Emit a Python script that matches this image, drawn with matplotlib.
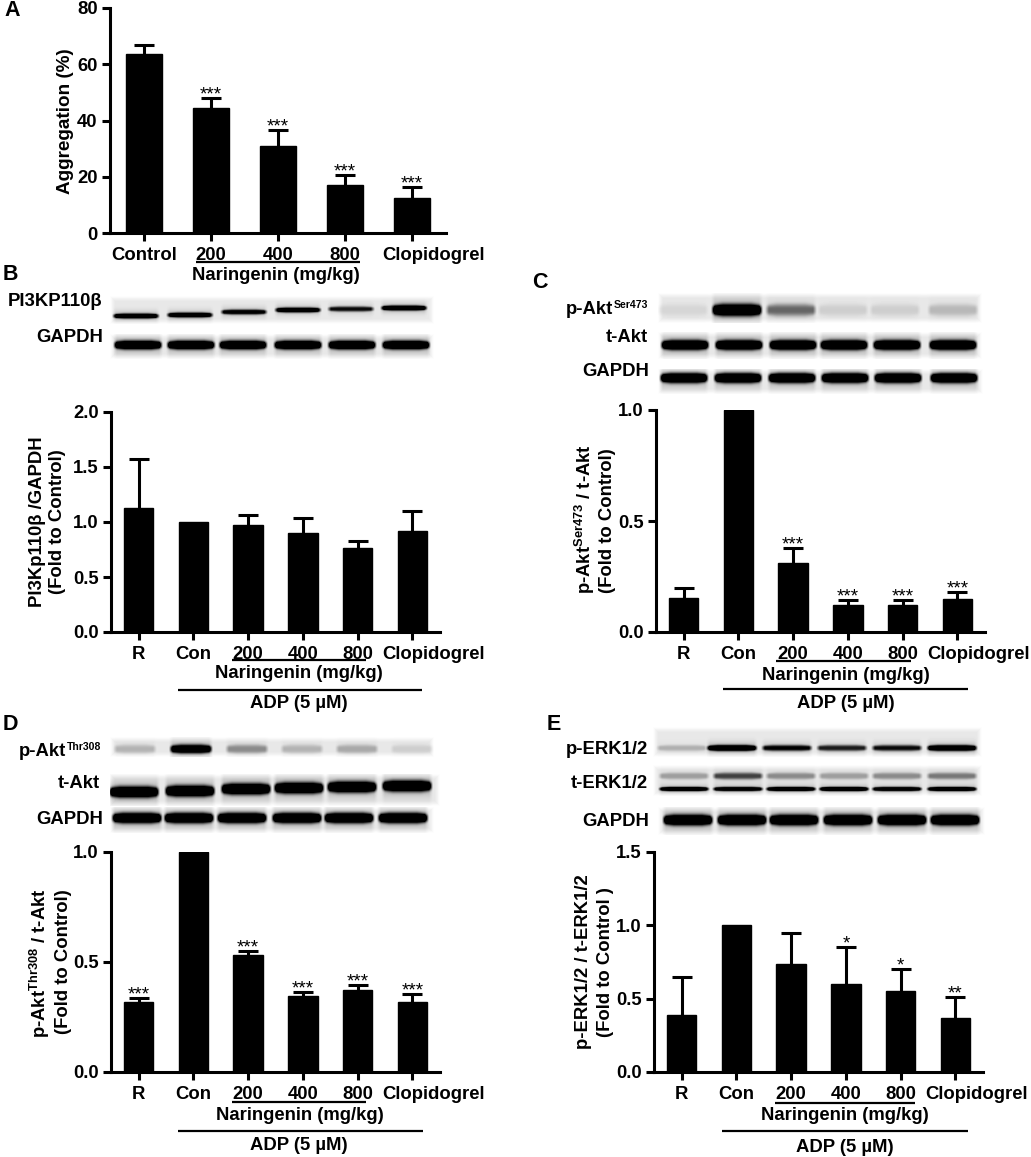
import numpy as np
import matplotlib
matplotlib.use('Agg')
import matplotlib.pyplot as plt
from matplotlib.transforms import ScaledTranslation

plt.rcParams['font.family'] = ['Liberation Sans', 'DejaVu Sans']
plt.rcParams['font.weight'] = 'bold'
plt.rcParams['mathtext.fontset'] = 'custom'
plt.rcParams['mathtext.bf'] = 'Liberation Sans:bold'
plt.rcParams['mathtext.rm'] = 'Liberation Sans:bold'
plt.rcParams['mathtext.default'] = 'bf'

W, H = 1031, 1157

# bar values
labels_a = ['Control', '200', '400', '800', 'Clopidogrel']
labels_6 = ['R', 'Con', '200', '400', '800', 'Clopidogrel']

vals_a = [63.5, 44.5, 31.0, 17.0, 12.5]
err_a = [3.5, 3.5, 5.5, 3.5, 4.0]
stars_a = ['', '***', '***', '***', '***']

vals_b = [1.13, 1.0, 0.97, 0.90, 0.76, 0.92]
err_b = [0.44, np.nan, 0.09, 0.14, 0.07, 0.18]
stars_b = ['', '', '', '', '', '']

vals_c = [0.155, 1.0, 0.31, 0.12, 0.12, 0.15]
err_c = [0.045, np.nan, 0.07, 0.025, 0.025, 0.028]
stars_c = ['', '', '***', '***', '***', '***']

vals_d = [0.32, 1.0, 0.53, 0.345, 0.375, 0.32]
err_d = [0.015, np.nan, 0.02, 0.02, 0.02, 0.035]
stars_d = ['***', '', '***', '***', '***', '***']

vals_e = [0.39, 1.0, 0.735, 0.60, 0.55, 0.37]
err_e = [0.26, np.nan, 0.215, 0.25, 0.15, 0.14]
stars_e = ['', '', '', '*', '*', '**']

# blot band darkness, one value per lane
blot_pi3k = [0.85, 0.8, 0.7, 0.8, 0.6, 0.9]
blot_gapdh = [1.0, 1.0, 1.0, 1.0, 1.0, 1.0]
blot_pakt_ser = [0.05, 1.0, 0.35, 0.07, 0.07, 0.13]
blot_takt = [1.0, 1.0, 1.0, 1.0, 1.0, 1.0]
blot_pakt_thr = [0.14, 0.9, 0.25, 0.14, 0.17, 0.07]
blot_perk = [0.15, 0.95, 0.65, 0.55, 0.6, 0.9]
blot_terk_low = [0.85, 0.8, 0.85, 0.9, 0.8, 0.85]
blot_terk_up = [0.2, 0.45, 0.25, 0.2, 0.25, 0.3]

fig = plt.figure(figsize=(W / 100, H / 100), dpi=100, facecolor='white')
over = fig.add_axes([0, 0, 1, 1], zorder=0)
over.axis('off')


def bar_panel(box, vals, errs, stars, labels, ymax, yticks, fmt):
    l, t, r, b = box
    ax = fig.add_axes([l / W, 1 - b / H, (r - l) / W, (b - t) / H], zorder=2)
    ax.patch.set_alpha(0)
    x = np.arange(len(vals))
    ax.bar(x, vals, width=0.54, color='black', edgecolor='black', linewidth=1)
    eb = ax.errorbar(x, vals, yerr=[np.zeros(len(vals)), errs], fmt='none', ecolor='black',
                     elinewidth=2.2, capsize=7, capthick=2.2, clip_on=False)
    eb[1][0].set_visible(False)  # no lower cap
    for i, s in enumerate(stars):
        if s:
            ax.annotate(s, (i, vals[i] + errs[i]), xytext=(0, -1), textcoords='offset points',
                        ha='center', va='baseline', fontsize=13.5, fontweight='normal',
                        annotation_clip=False)
    ax.set_xlim(-0.505, len(vals) - 0.495)
    ax.set_ylim(0, ymax)
    ax.set_yticks(yticks)
    ax.set_yticklabels([fmt % v for v in yticks])
    ax.set_xticks(x)
    ax.set_xticklabels(labels)
    ax.tick_params(axis='both', width=2.2, length=6, labelsize=13.3, pad=3)
    ax.tick_params(axis='x', pad=4)
    for s in ['top', 'right']:
        ax.spines[s].set_visible(False)
    for s in ['left', 'bottom']:
        ax.spines[s].set_linewidth(2.2)
    # Clopidogrel label sits right of its tick
    lab = ax.get_xticklabels()[-1]
    lab.set_transform(lab.get_transform() + ScaledTranslation(21 / 100, 0, fig.dpi_scale_trans))
    return ax


def blot(box, lanes, half, bands):
    # bands: list of (darkness per lane, y centres, half thickness)
    x0, y0, x1, y1 = box
    xs = np.arange(x0, x1) + 0.5
    ys = np.arange(y0, y1) + 0.5
    X, Y = np.meshgrid(xs, ys)
    edge = np.minimum.reduce([X - x0, x1 - X, Y - y0, y1 - Y])
    fade = np.clip(edge / 5, 0, 1)
    dark = 0.09 * fade
    for levels, yc, th in bands:
        for i, c in enumerate(lanes):
            yy = yc[i] if np.ndim(yc) else yc
            lx = np.clip((half - np.abs(X - c)) / 4, 0, 1)
            taper = 0.55 + 0.45 * np.clip((half - np.abs(X - c)) / 12, 0, 1) ** 0.5
            core = np.exp(-(np.abs(Y - yy) / (th * taper)) ** 2.8)
            halo = np.exp(-((Y - yy) / (th * 2.0)) ** 2) * 0.22
            dark = dark + levels[i] * lx * (core * 1.25 + halo)
    img = 1 - np.clip(dark, 0, 1)
    over.imshow(img, extent=(x0, x1, y1, y0), cmap='gray', vmin=0, vmax=1, aspect='auto',
                interpolation='bicubic')


def t(x, y, s, **kw):
    kw.setdefault('fontsize', 13.3)
    kw.setdefault('ha', 'center')
    kw.setdefault('va', 'center')
    over.text(x, y, s, **kw)


def hline(x0, x1, y):
    over.plot([x0, x1], [y, y], color='black', lw=1.6, solid_capstyle='butt')


# A
bar_panel((110, 8, 446, 233), vals_a, err_a, stars_a, labels_a, 80, [0, 20, 40, 60, 80], '%d')
# B
bar_panel((111, 412, 440, 632), vals_b, err_b, stars_b, labels_6, 2.0, [0, 0.5, 1.0, 1.5, 2.0], '%.1f')
# C
bar_panel((656, 410, 985, 632), vals_c, err_c, stars_c, labels_6, 1.0, [0, 0.5, 1.0], '%.1f')
# D
bar_panel((111, 852, 440, 1072), vals_d, err_d, stars_d, labels_6, 1.0, [0, 0.5, 1.0], '%.1f')
# E
bar_panel((654, 852, 983, 1072), vals_e, err_e, stars_e, labels_6, 1.5, [0, 0.5, 1.0, 1.5], '%.1f')

# blots
blot((110, 296, 434, 324), [136, 190, 244, 298, 351, 404], 24, [(blot_pi3k, [316, 315, 312, 310, 309, 308], 2.6)])
blot((110, 334, 434, 359), [138, 191, 243, 298, 352, 406], 25, [(blot_gapdh, 345, 4.4)])
blot((658, 293, 982, 323), [683, 737, 791, 843, 895, 953], 26, [(blot_pakt_ser, 310, 6.0)])
blot((658, 332, 982, 359), [685, 739, 793, 844, 897, 953], 25, [(blot_takt, 345, 5.0)])
blot((658, 369, 983, 394), [684, 738, 792, 845, 898, 954], 25, [(blot_gapdh, 378, 5.0)])
blot((110, 737, 434, 757), [135, 191, 247, 302, 357, 412], 22, [(blot_pakt_thr, 749, 4.4)])
blot((110, 774, 440, 806), [134, 190, 246, 299, 352, 407], 26, [(blot_takt, [792, 791, 789, 788, 787, 786], 5.6)])
blot((110, 807, 434, 833), [137, 189, 242, 297, 349, 403], 26, [(blot_gapdh, 818, 5.2)])
blot((653, 727, 982, 757), [682, 732, 787, 842, 897, 952], 26, [(blot_perk, 748, 3.0)])
blot((653, 765, 982, 796), [684, 738, 791, 844, 897, 952], 26,
     [(blot_terk_low, 789, 2.2), (blot_terk_up, 776, 3.4)])
blot((658, 807, 985, 835), [688, 742, 794, 848, 902, 955], 26, [(blot_gapdh, 820, 5.4)])
over.set_xlim(0, W)
over.set_ylim(H, 0)

# panel letters
t(12, 11, 'A', fontsize=15.5)
t(10, 275, 'B', fontsize=15.5)
t(540, 282, 'C', fontsize=15.5)
t(10, 725, 'D', fontsize=15.5)
t(554, 724, 'E', fontsize=15.5)

# blot names
kw = dict(ha='right')
t(102, 302, 'PI3KP110β', **kw)
t(103, 337, 'GAPDH', **kw)
t(613, 310, 'p-Akt', **kw)
t(648, 305, 'Ser473', fontsize=7.6, ha='right')
t(648, 337, 't-Akt', **kw)
t(649, 372, 'GAPDH', **kw)
t(66, 751, 'p-Akt', **kw)
t(101, 747, 'Thr308', fontsize=7.6, ha='right')
t(100, 783, 't-Akt', **kw)
t(103, 820, 'GAPDH', **kw)
t(648, 750, 'p-ERK1/2', **kw)
t(648, 783, 't-ERK1/2', **kw)
t(649, 821, 'GAPDH', **kw)

# y labels
t(65, 121, 'Aggregation (%)', rotation=90, fontsize=13.6)
t(38, 522, 'PI3Kp110β /GAPDH', rotation=90)
t(58, 522, '(Fold to Control)', rotation=90)
t(585, 519, 'p-Akt$^{Ser473}$ / t-Akt', rotation=90)
t(607, 521, '(Fold to Control)', rotation=90)
t(40, 963, 'p-Akt$^{Thr308}$ / t-Akt', rotation=90)
t(63, 962, '(Fold to Control)', rotation=90)
t(583, 962, 'p-ERK1/2 / t-ERK1/2', rotation=90)
t(605, 962, '(Fold to Control )', rotation=90)

# group brackets
hline(196, 360, 262)
t(276, 276, 'Naringenin (mg/kg)')
hline(232, 366, 660)
t(299, 674, 'Naringenin (mg/kg)')
hline(178, 422, 690)
t(299, 704, 'ADP (5 µM)')
hline(776, 911, 661)
t(846, 675, 'Naringenin (mg/kg)')
hline(723, 968, 689)
t(846, 704, 'ADP (5 µM)')
hline(232, 366, 1102)
t(300, 1115, 'Naringenin (mg/kg)')
hline(178, 423, 1131)
t(299, 1146, 'ADP (5 µM)')
hline(775, 915, 1103)
t(845, 1115, 'Naringenin (mg/kg)')
hline(722, 968, 1131)
t(845, 1147, 'ADP (5 µM)')

fig.savefig('out.png', dpi=100)
